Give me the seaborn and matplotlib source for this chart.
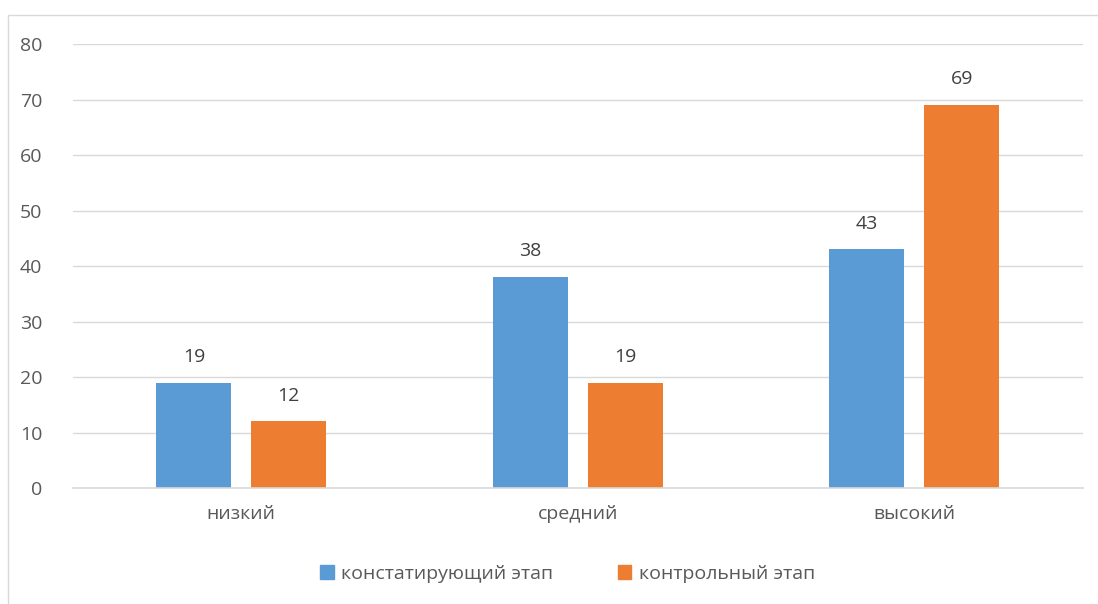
import pandas as pd
import matplotlib
matplotlib.use('Agg')
import matplotlib.pyplot as plt
from matplotlib.patches import Rectangle
import seaborn as sns

levels = ['низкий', 'средний', 'высокий']
stage_names = ['констатирующий этап', 'контрольный этап']
stage1_values = [19, 38, 43]
stage2_values = [12, 19, 69]
y_ticks = [0, 10, 20, 30, 40, 50, 60, 70, 80]

colors = ['#5b9bd5', '#ed7d31']
text_color = '#595959'

df = pd.DataFrame({
    'level': levels * 2,
    'stage': [stage_names[0]] * 3 + [stage_names[1]] * 3,
    'value': stage1_values + stage2_values,
})

sns.set_style('white')
plt.rcParams['font.family'] = ['Open Sans', 'DejaVu Sans']

fig = plt.figure(figsize=(10.98, 6.04), dpi=100)
ax = fig.add_axes([0.0665, 0.192, 0.9195, 0.735])

sns.barplot(data=df, x='level', y='value', hue='stage', palette=colors,
            width=0.564, gap=0.21, ax=ax, legend=False, saturation=1,
            linewidth=0, edgecolor='none')

for c in ax.containers:
    ax.bar_label(c, fmt='%d', padding=12, fontsize=14, color='#404040')

ax.set_ylim(0, 80)
ax.set_xlim(-0.5, 2.5)
ax.set_yticks(y_ticks)
ax.yaxis.grid(True, color='#d9d9d9', linewidth=1)
ax.set_axisbelow(True)
for s in ['top', 'right', 'left']:
    ax.spines[s].set_visible(False)
ax.spines['bottom'].set_color('#d9d9d9')
ax.spines['bottom'].set_linewidth(1.2)
ax.tick_params(axis='both', length=0, labelsize=14, colors=text_color)
ax.tick_params(axis='y', pad=22)
ax.tick_params(axis='x', pad=12)
ax.set_xlabel('')
ax.set_ylabel('')

handles = [Rectangle((0, 0), 1, 1, color=c) for c in colors]
fig.legend(handles, stage_names, loc='center', bbox_to_anchor=(0.517, 0.05),
           ncol=2, frameon=False, fontsize=14, handlelength=0.7, handleheight=0.7,
           columnspacing=3.3, handletextpad=0.4, labelcolor=text_color)

# chart-area border
fig.patches.append(Rectangle((8 / 1098, -0.1), 1.2, (604 - 15) / 604 + 0.1,
                             transform=fig.transFigure, fill=False,
                             edgecolor='#d9d9d9', linewidth=1))

fig.savefig('out.png', dpi=100)
plt.close(fig)
